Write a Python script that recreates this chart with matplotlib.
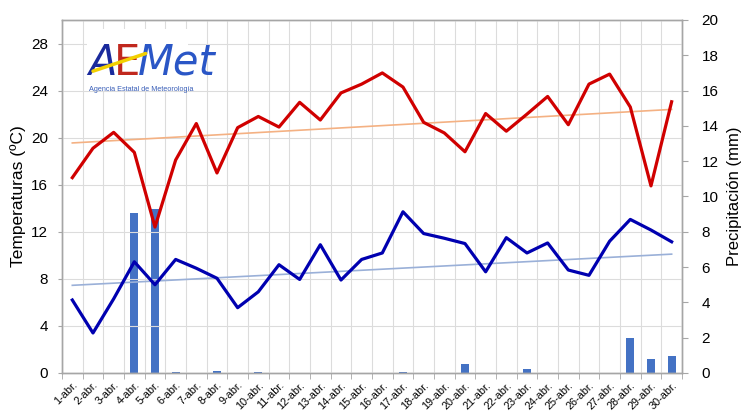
import matplotlib
matplotlib.use('Agg')
import matplotlib.pyplot as plt
import numpy as np

plt.rcParams['font.family'] = ['Liberation Sans', 'DejaVu Sans']

# datos de abril
dias = [f'{d}-abr.' for d in range(1, 31)]
t_max = [16.6, 19.1, 20.45, 18.75, 12.4, 18.1, 21.2, 17.0, 20.85, 21.8,
         20.9, 23.0, 21.5, 23.8, 24.55, 25.5, 24.3, 21.3, 20.4, 18.8,
         22.05, 20.55, 22.0, 23.5, 21.1, 24.55, 25.4, 22.6, 15.9, 23.05]
t_min = [6.2, 3.4, 6.3, 9.45, 7.5, 9.65, 8.9, 8.05, 5.55, 6.9,
         9.2, 7.95, 10.9, 7.9, 9.65, 10.2, 13.7, 11.85, 11.45, 11.0,
         8.6, 11.5, 10.2, 11.05, 8.75, 8.3, 11.2, 13.05, 12.15, 11.15]
precip = [0, 0, 0, 9.05, 9.3, 0.03, 0, 0.1, 0, 0.03,
          0, 0, 0, 0, 0, 0, 0.03, 0, 0, 0.5,
          0, 0, 0.22, 0, 0, 0, 0, 2.0, 0.8, 0.98]
# lineas de tendencia (inicio y final del mes)
tend_max = [19.55, 22.4]
tend_min = [7.45, 10.1]
temp_ticks = [0, 4, 8, 12, 16, 20, 24, 28]
prec_ticks = [0, 2, 4, 6, 8, 10, 12, 14, 16, 18, 20]

x = np.arange(len(dias))
grid_col = '#dcdcdc'
frame_col = '#a6a6a6'

fig = plt.figure(figsize=(7.45, 4.12), dpi=100)
ax = fig.add_axes([0.0832, 0.0947, 0.8322, 0.8568])
ax2 = ax.twinx()

# precipitacion detras
ax2.bar(x, precip, width=0.4, color='#4472C4', zorder=2)
ax2.set_ylim(0, 20)
ax2.set_yticks(prec_ticks)
ax2.set_ylabel('Precipitación (mm)', fontsize=12, labelpad=6)
ax2.tick_params(axis='y', labelsize=11, length=4, color=frame_col, pad=10)

ax.set_zorder(ax2.get_zorder() + 1)
ax.patch.set_visible(False)

ends = [x[0], x[-1]]
ax.plot(ends, tend_max, color='#F4B183', lw=1.2, zorder=3)
ax.plot(ends, tend_min, color='#9AB0D8', lw=1.2, zorder=3)

ax.plot(x, t_max, color='#D00000', lw=2.3, zorder=4)
ax.plot(x, t_min, color='#0000B0', lw=2.3, zorder=4)

ax.set_xlim(-0.5, len(dias) - 0.5)
ax.set_ylim(0, 30)
ax.set_yticks(temp_ticks)
ax.set_ylabel('Temperaturas (ºC)', fontsize=12.5, labelpad=4)
ax.tick_params(axis='y', labelsize=11, length=3, color=frame_col, pad=7)

# rejilla
ax.set_xticks(x)
ax.set_xticklabels(dias, rotation=45, ha='right', va='top',
                   rotation_mode='anchor', fontsize=7.8)
ax.set_xticks(np.arange(-0.5, len(dias), 1), minor=True)
ax.tick_params(axis='x', which='major', length=0, pad=5)
ax.tick_params(axis='x', which='minor', length=4, color=frame_col)
ax.grid(True, axis='y', color=grid_col, lw=0.8)
ax.grid(True, axis='x', which='minor', color=grid_col, lw=0.8)
ax.set_axisbelow(True)

for a in (ax, ax2):
    for s in a.spines.values():
        s.set_color(frame_col)
        s.set_linewidth(1.0)

# logo AEMET
ax.text(0.04, 0.975, ' ' * 26 + '\n' * 3, transform=ax.transAxes, fontsize=10,
        va='top', ha='left', bbox=dict(facecolor='white', edgecolor='none', pad=0),
        zorder=5)
ax.text(0.042, 0.845, 'A', transform=ax.transAxes, fontsize=30, color='#1a2a9c',
        style='italic', family='DejaVu Sans', zorder=6)
ax.text(0.084, 0.845, 'E', transform=ax.transAxes, fontsize=30, color='#c0281e',
        family='DejaVu Sans', zorder=6)
ax.text(0.123, 0.845, 'Met', transform=ax.transAxes, fontsize=30, color='#2a56c6',
        style='italic', family='DejaVu Sans', zorder=6)
ax.plot([0.05, 0.135], [0.855, 0.905], transform=ax.transAxes, color='#f2d000',
        lw=2.5, zorder=7, solid_capstyle='round')
ax.text(0.043, 0.8, 'Agencia Estatal de Meteorología', transform=ax.transAxes,
        fontsize=5.2, color='#3a5fb8', zorder=6)

fig.savefig('out.png', dpi=100)
